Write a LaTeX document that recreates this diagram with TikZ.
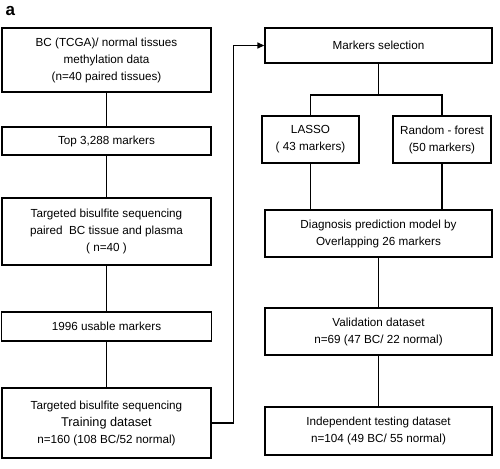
\documentclass[tikz,border=0pt]{standalone}
\usepackage{fontspec}
\setmainfont{Liberation Sans}
\usetikzlibrary{arrows.meta}

\begin{document}
\begin{tikzpicture}[x=1pt,y=-1pt,font=\fontsize{11.7}{17}\selectfont,
  bx/.style={draw,line width=1.4pt,align=center,inner sep=2pt},
  wide/.style={bx,minimum width=209pt},
  rwide/.style={bx,minimum width=227pt},
  ln/.style={line width=1.4pt}]
\useasboundingbox (0,0) rectangle (500,468);
\node[anchor=west,font=\fontsize{17}{17}\selectfont\bfseries] (lbl) at (2,11) {a};
% left column
\node[wide,minimum height=64pt] (tcga) at (106.5,60)
  {BC (TCGA)/ normal tissues\\methylation data\\(n=40 paired tissues)};
\node[wide,minimum height=28pt] (top) at (106.5,141) {Top 3,288 markers};
\node[wide,minimum height=67pt] (tbs) at (106.5,231.5)
  {Targeted bisulfite sequencing\\paired\ \ BC tissue and plasma\\( n=40 )};
\node[wide,minimum height=29pt,minimum width=210pt] (usable) at (106.5,326.5) {1996 usable markers};
\node[wide,minimum height=70pt] (train) at (106.5,423)
  {Targeted bisulfite sequencing\\{\fontsize{12.7}{17}\selectfont Training dataset}\\n=160 (108 BC/52 normal)};
\foreach \u/\v in {tcga/top,top/tbs,tbs/usable,usable/train}{\draw[ln] (\u.south)--(\v.north);}
% right column
\node[rwide,minimum height=35pt] (sel) at (378.5,45.5) {Markers selection};
\node[bx,minimum width=97pt,minimum height=47pt] (lasso) at (310.5,139.5) {LASSO\\( 43 markers)};
\node[bx,minimum width=98pt,minimum height=47pt] (rf) at (442,139.5) {Random - forest\\(50 markers)};
\node[rwide,minimum height=47pt] (diag) at (378.5,233.5)
  {Diagnosis prediction model by\\Overlapping 26 markers};
\node[rwide,minimum height=47pt] (valid) at (378.5,331.5) {Validation dataset\\n=69 (47 BC/ 22 normal)};
\node[rwide,minimum height=48pt] (indep) at (378.5,431) {Independent testing dataset\\n=104 (49 BC/ 55 normal)};
\coordinate (split) at (sel.south |- 0,95);
\draw[ln] (sel.south)--(split);
\draw[ln] (lasso.north) |- (split) -| (rf.north);
\draw[ln] (lasso.south)--(lasso.south |- diag.north);
\draw[ln] (rf.south)--(rf.south |- diag.north);
\draw[ln] (diag.south)--(valid.north);
\draw[ln] (valid.south)--(indep.north);
% back to selection
\draw[ln,-{Triangle[length=7pt,width=6pt]}] (train.east) -- ++(22,0) |- (sel.west);
\end{tikzpicture}
\end{document}
